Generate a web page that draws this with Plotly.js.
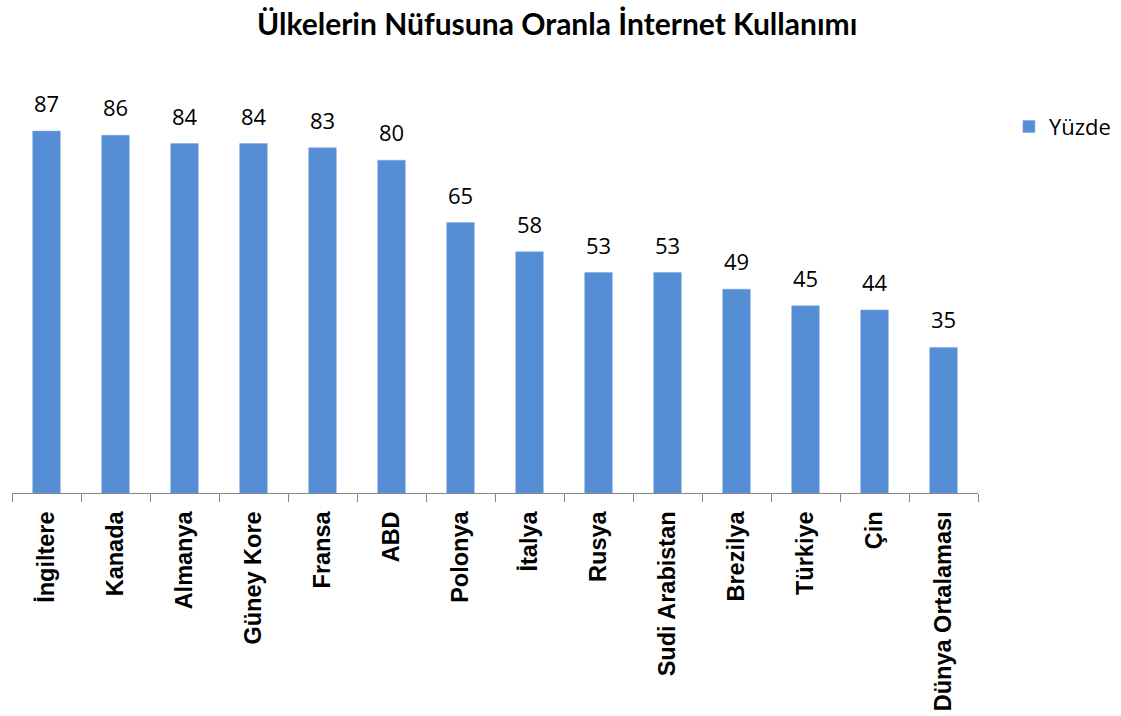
<!DOCTYPE html>
<html>
<head>
<meta charset="utf-8">
<script src="https://cdn.plot.ly/plotly-3.0.1.min.js"></script>
<style>html,body{margin:0;padding:0;background:#fff;}#chart{width:1121px;height:716px;}</style>
</head>
<body>
<div id="chart"></div>
<script>
const categories = ["İngiltere", "Kanada", "Almanya", "Güney Kore", "Fransa", "ABD", "Polonya", "İtalya", "Rusya", "Sudi Arabistan", "Brezilya", "Türkiye", "Çin", "Dünya Ortalaması"];
const values = [87, 86, 84, 84, 83, 80, 65, 58, 53, 53, 49, 45, 44, 35];
const seriesName = "Yüzde";
const chartTitle = "Ülkelerin Nüfusuna Oranla İnternet Kullanımı";

const barColor = "#558ed5";

const trace = {
  type: "bar",
  x: categories,
  y: values,
  name: seriesName,
  marker: {color: barColor, line: {color: "#7aa7df", width: 0.5}},
  showlegend: true,
  hoverinfo: "x+y"
};

const annotations = categories.map((c, i) => ({
  x: c, y: values[i], xref: "x", yref: "y",
  text: String(values[i]),
  showarrow: false,
  yanchor: "bottom",
  yshift: 11,
  font: {family: "Open Sans, Lato, sans-serif", size: 22, color: "#000"}
}));

const layout = {
  width: 1121, height: 716,
  paper_bgcolor: "#fff", plot_bgcolor: "rgba(0,0,0,0)",
  margin: {l: 12, r: 143, t: 77, b: 223, autoexpand: false},
  title: {
    text: "<b>" + chartTitle + "</b>",
    font: {family: "Lato, Open Sans, sans-serif", size: 30, color: "#000"},
    x: 0.497, xref: "container", xanchor: "center",
    y: 0.966, yref: "container", yanchor: "middle"
  },
  bargap: 0.6,
  xaxis: {
    type: "category",
    automargin: false,
    showline: true, linecolor: "#868686", linewidth: 1,
    ticks: "outside", tickson: "boundaries", ticklen: 8, tickcolor: "#868686", tickwidth: 1,
    tickangle: -90,
    ticklabelstandoff: 8,
    tickfont: {family: "Liberation Sans, Arial, sans-serif", size: 23.5, color: "#000", weight: "bold"},
    showgrid: false, zeroline: false, fixedrange: true
  },
  yaxis: {
    range: [0, 100],
    automargin: false,
    visible: false, showgrid: false, zeroline: false, fixedrange: true
  },
  legend: {
    xref: "container", yref: "container",
    x: 0.9, xanchor: "left", y: 0.823, yanchor: "middle",
    font: {family: "Open Sans, Lato, sans-serif", size: 22, color: "#000"},
    bgcolor: "rgba(0,0,0,0)", itemwidth: 30
  },
  annotations: annotations
};

Plotly.newPlot("chart", [trace], layout, {displayModeBar: false, staticPlot: true});
</script>
</body>
</html>
